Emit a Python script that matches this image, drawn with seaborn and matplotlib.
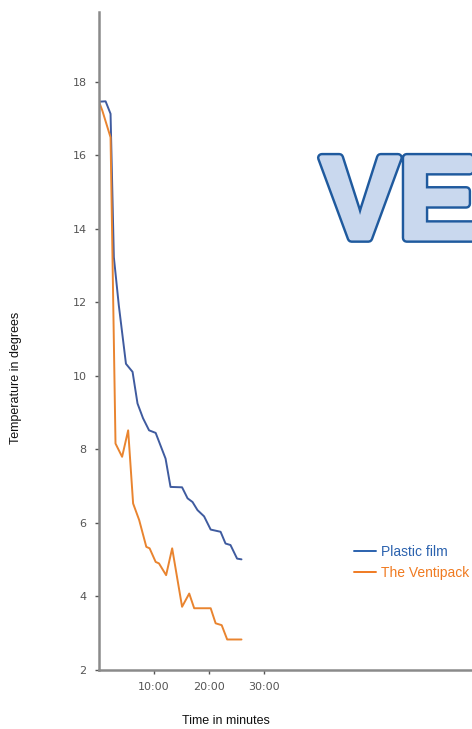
import numpy as np
import pandas as pd
import seaborn as sns
import matplotlib.pyplot as plt
import matplotlib.patheffects as pe

# minutes / degrees
film_time = [0, 1.2, 2.1, 2.7, 3.6, 4.9, 6.1, 7.0, 8.0, 9.1, 10.3, 12.1, 13.0, 15.1,
             16.1, 17.0, 17.9, 19.1, 20.3, 22.1, 23.0, 23.9, 25.1, 25.9]
film_temp = [17.46, 17.47, 17.13, 13.23, 11.92, 10.33, 10.11, 9.25, 8.85, 8.52, 8.45, 7.75,
             6.98, 6.97, 6.67, 6.57, 6.35, 6.18, 5.82, 5.76, 5.44, 5.40, 5.03, 5.01]
venti_time = [0, 0.6, 2.1, 3.0, 4.2, 5.3, 6.2, 7.3, 8.6, 9.2, 10.3, 10.9, 12.2, 13.3,
              15.1, 16.4, 17.3, 20.3, 21.2, 22.3, 23.3, 25.9]
venti_temp = [17.46, 17.22, 16.49, 8.16, 7.80, 8.52, 6.53, 6.08, 5.35, 5.31, 4.94, 4.90,
              4.58, 5.31, 3.72, 4.08, 3.68, 3.68, 3.27, 3.22, 2.83, 2.83]
series_names = ["Plastic film", "The Ventipack"]
line_colors = ["#3f5b9f", "#e9842f"]
text_colors = ["#2b62ae", "#f07b22"]
x_ticks = [10, 20, 30]
x_tick_labels = ["10:00", "20:00", "30:00"]
y_ticks = [2, 4, 6, 8, 10, 12, 14, 16, 18]

df = pd.concat([
    pd.DataFrame({"time": film_time, "temp": film_temp, "series": series_names[0]}),
    pd.DataFrame({"time": venti_time, "temp": venti_temp, "series": series_names[1]}),
])

sns.set_style("ticks")
plt.rcParams["font.family"] = ["Liberation Sans", "DejaVu Sans"]

fig = plt.figure(figsize=(4.72, 7.29), dpi=100)
ax = fig.add_axes([99 / 472, 59 / 729, 373 / 472, 658 / 729])

sns.lineplot(data=df, x="time", y="temp", hue="series", palette=line_colors,
             linewidth=1.4, sort=False, legend=False, ax=ax)

ax.set_xlim(0, 67.8)
ax.set_ylim(2, 19.9)
ax.set_xticks(x_ticks)
ax.set_xticklabels(x_tick_labels)
ax.set_yticks(y_ticks)
ax.tick_params(axis="both", labelsize=8, colors="#555555", length=3, width=1, pad=6)
for lbl in ax.get_xticklabels() + ax.get_yticklabels():
    lbl.set_fontfamily("DejaVu Sans")
for side in ["left", "bottom"]:
    ax.spines[side].set_color("#8a8a8a")
    ax.spines[side].set_linewidth(1.8)
sns.despine(ax=ax)

ax.set_xlabel("Time in minutes", fontsize=9, color="#111111")
ax.set_ylabel("Temperature in degrees", fontsize=9, color="#111111")
ax.xaxis.set_label_coords(0.34, -0.069)
ax.yaxis.set_label_coords(-0.207, 0.444)

handles = [plt.Line2D([], [], color=c, linewidth=1.4) for c in text_colors]
leg = ax.legend(handles, series_names, loc="upper left", bbox_to_anchor=(341 / 472, 1 - 532 / 729),
                bbox_transform=fig.transFigure, frameon=False, fontsize=10,
                handlelength=1.65, handletextpad=0.35, labelspacing=0.55)
for txt, c in zip(leg.get_texts(), text_colors):
    txt.set_color(c)

fig.text(321 / 472, 1 - 238 / 729, "VENTIPACK", fontsize=84, fontweight="bold",
         color="#c9d8ee", ha="left", va="baseline",
         path_effects=[pe.Stroke(linewidth=7, foreground="#1f5a9e", joinstyle="round"),
                       pe.Stroke(linewidth=3.5, foreground="#c9d8ee", joinstyle="round"),
                       pe.Normal()])

fig.savefig("out.png", dpi=100)
